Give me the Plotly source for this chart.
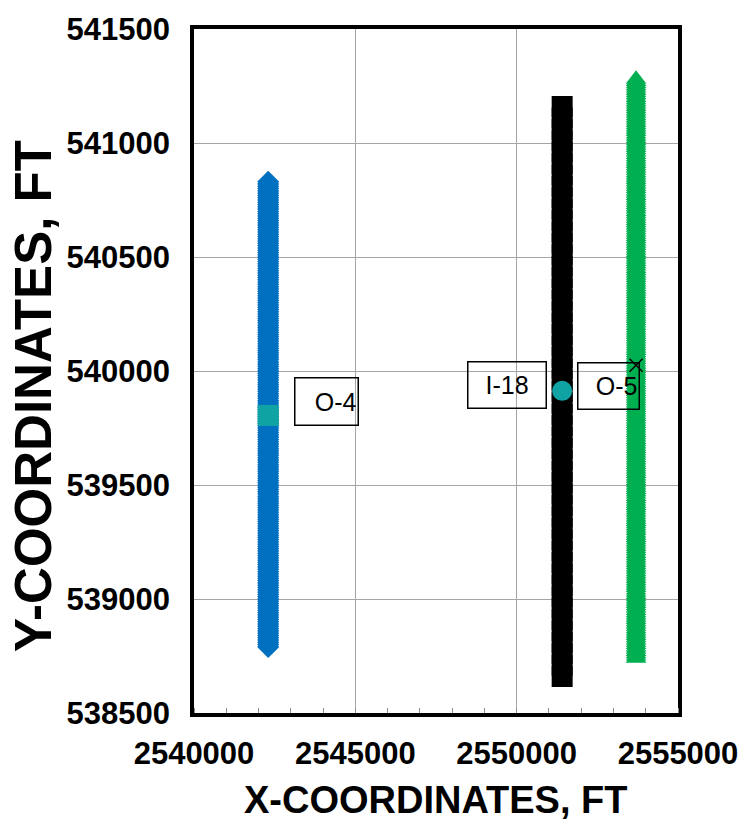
import plotly.graph_objects as go

# ---- Well survey stations (easting constant, northing in ft) ----
o4_x = 2542300
o4_y = [
    538790,
    538800, 538810, 538820, 538830, 538840, 538850, 538860, 538870, 538880, 538890,
    538900, 538910, 538920, 538930, 538940, 538950, 538960, 538970, 538980, 538990,
    539000, 539010, 539020, 539030, 539040, 539050, 539060, 539070, 539080, 539090,
    539100, 539110, 539120, 539130, 539140, 539150, 539160, 539170, 539180, 539190,
    539200, 539210, 539220, 539230, 539240, 539250, 539260, 539270, 539280, 539290,
    539300, 539310, 539320, 539330, 539340, 539350, 539360, 539370, 539380, 539390,
    539400, 539410, 539420, 539430, 539440, 539450, 539460, 539470, 539480, 539490,
    539500, 539510, 539520, 539530, 539540, 539550, 539560, 539570, 539580, 539590,
    539600, 539610, 539620, 539630, 539640, 539650, 539660, 539670, 539680, 539690,
    539700, 539710, 539720, 539730, 539740, 539750, 539760, 539770, 539780, 539790,
    539800, 539810, 539820, 539830, 539840, 539850, 539860, 539870, 539880, 539890,
    539900, 539910, 539920, 539930, 539940, 539950, 539960, 539970, 539980, 539990,
    540000, 540010, 540020, 540030, 540040, 540050, 540060, 540070, 540080, 540090,
    540100, 540110, 540120, 540130, 540140, 540150, 540160, 540170, 540180, 540190,
    540200, 540210, 540220, 540230, 540240, 540250, 540260, 540270, 540280, 540290,
    540300, 540310, 540320, 540330, 540340, 540350, 540360, 540370, 540380, 540390,
    540400, 540410, 540420, 540430, 540440, 540450, 540460, 540470, 540480, 540490,
    540500, 540510, 540520, 540530, 540540, 540550, 540560, 540570, 540580, 540590,
    540600, 540610, 540620, 540630, 540640, 540650, 540660, 540670, 540680, 540690,
    540700, 540710, 540720, 540730, 540740, 540750, 540760, 540770, 540780, 540790,
    540800, 540810, 540820, 540830,
]

i18_x = 2551410
i18_y = [
    538660, 538710, 538760, 538810, 538860, 538910, 538960, 539010, 539060, 539110,
    539160, 539210, 539260, 539310, 539360, 539410, 539460, 539510, 539560, 539610,
    539660, 539710, 539760, 539810, 539860, 539910, 539960, 540010, 540060, 540110,
    540160, 540210, 540260, 540310, 540360, 540410, 540460, 540510, 540560, 540610,
    540660, 540710, 540760, 540810, 540860, 540910, 540960, 541010, 541060, 541110,
    541160,
]

o5_x = 2553700
o5_y = [
    538740, 538750, 538760, 538770, 538780, 538790,
    538800, 538810, 538820, 538830, 538840, 538850, 538860, 538870, 538880, 538890,
    538900, 538910, 538920, 538930, 538940, 538950, 538960, 538970, 538980, 538990,
    539000, 539010, 539020, 539030, 539040, 539050, 539060, 539070, 539080, 539090,
    539100, 539110, 539120, 539130, 539140, 539150, 539160, 539170, 539180, 539190,
    539200, 539210, 539220, 539230, 539240, 539250, 539260, 539270, 539280, 539290,
    539300, 539310, 539320, 539330, 539340, 539350, 539360, 539370, 539380, 539390,
    539400, 539410, 539420, 539430, 539440, 539450, 539460, 539470, 539480, 539490,
    539500, 539510, 539520, 539530, 539540, 539550, 539560, 539570, 539580, 539590,
    539600, 539610, 539620, 539630, 539640, 539650, 539660, 539670, 539680, 539690,
    539700, 539710, 539720, 539730, 539740, 539750, 539760, 539770, 539780, 539790,
    539800, 539810, 539820, 539830, 539840, 539850, 539860, 539870, 539880, 539890,
    539900, 539910, 539920, 539930, 539940, 539950, 539960, 539970, 539980, 539990,
    540000, 540010, 540020, 540030, 540040, 540050, 540060, 540070, 540080, 540090,
    540100, 540110, 540120, 540130, 540140, 540150, 540160, 540170, 540180, 540190,
    540200, 540210, 540220, 540230, 540240, 540250, 540260, 540270, 540280, 540290,
    540300, 540310, 540320, 540330, 540340, 540350, 540360, 540370, 540380, 540390,
    540400, 540410, 540420, 540430, 540440, 540450, 540460, 540470, 540480, 540490,
    540500, 540510, 540520, 540530, 540540, 540550, 540560, 540570, 540580, 540590,
    540600, 540610, 540620, 540630, 540640, 540650, 540660, 540670, 540680, 540690,
    540700, 540710, 540720, 540730, 540740, 540750, 540760, 540770, 540780, 540790,
    540800, 540810, 540820, 540830, 540840, 540850, 540860, 540870, 540880, 540890,
    540900, 540910, 540920, 540930, 540940, 540950, 540960, 540970, 540980, 540990,
    541000, 541010, 541020, 541030, 541040, 541050, 541060, 541070, 541080, 541090,
    541100, 541110, 541120, 541130, 541140, 541150, 541160, 541170, 541180, 541190,
    541200, 541210, 541220, 541230, 541240, 541250, 541260, 541270, 541280,
]

# ---- Labelled well locations ----
well_names = ["O-4", "I-18", "O-5"]
well_x = [2542300, 2551410, 2553700]
well_y = [539805, 539913, 540025]

# ---- Axis ticks ----
x_ticks = [2540000, 2545000, 2550000, 2555000]
x_tick_text = ["2540000", "2545000", "2550000", "2555000"]
y_ticks = [538500, 539000, 539500, 540000, 540500, 541000, 541500]
y_tick_text = ["538500", "539000", "539500", "540000", "540500", "541000", "541500"]

BLUE = "#0070C0"
GREEN = "#00B050"
TEAL = "#0FA3A3"
FONT = "Liberation Sans"

fig = go.Figure()

fig.add_trace(go.Scatter(
    x=[o4_x] * len(o4_y), y=o4_y, mode="markers",
    marker=dict(symbol="diamond", size=17, color=BLUE, line=dict(width=0)),
))
fig.add_trace(go.Scatter(
    x=[i18_x] * len(i18_y), y=i18_y, mode="markers",
    marker=dict(symbol="square", size=21, color="black", line=dict(width=0)),
))
fig.add_trace(go.Scatter(
    x=[o5_x] * len(o5_y), y=o5_y, mode="markers",
    marker=dict(symbol="triangle-up", size=18, color=GREEN, line=dict(width=0)),
))

# Location markers on each well
fig.add_trace(go.Scatter(
    x=[well_x[0]], y=[well_y[0]], mode="markers",
    marker=dict(symbol="square", size=21, color=TEAL, line=dict(width=0)),
))
fig.add_trace(go.Scatter(
    x=[well_x[1]], y=[well_y[1]], mode="markers",
    marker=dict(symbol="circle", size=20, color=TEAL, line=dict(width=0)),
))
fig.add_trace(go.Scatter(
    x=[well_x[2]], y=[well_y[2]], mode="markers",
    marker=dict(symbol="x-thin", size=13, color="black",
                line=dict(width=1.5, color="black")),
))

# Boxed well labels, placed relative to each well's marker
label_style = [
    dict(xanchor="left", xshift=26, yshift=38.5, width=60, height=44, align="right"),
    dict(xanchor="right", xshift=-15.6, yshift=29.4, width=75, height=43, align="center"),
    dict(xanchor="right", xshift=4.4, yshift=3.4, width=58, height=43, align="right"),
]
for name, xv, yv, st in zip(well_names, well_x, well_y, label_style):
    fig.add_annotation(
        x=xv, y=yv, xref="x", yref="y", text=name, showarrow=False,
        yanchor="top", valign="middle",
        font=dict(family=FONT, size=25, color="black"),
        bordercolor="black", borderwidth=1.5, borderpad=1,
        bgcolor="rgba(0,0,0,0)", **st,
    )

# Axis titles
fig.add_annotation(
    text="X-COORDINATES, FT", xref="paper", yref="paper",
    x=0.5, y=-0.127, xanchor="center", yanchor="middle", showarrow=False,
    font=dict(family=FONT, size=38, color="black", weight="bold"),
)
fig.add_annotation(
    text="Y-COORDINATES, FT", xref="paper", yref="paper",
    x=-0.331, y=0.463, xanchor="center", yanchor="middle", showarrow=False,
    textangle=-90,
    font=dict(family=FONT, size=51, color="black", weight="bold"),
)

tick_font = dict(family=FONT, size=31, color="black", weight="bold")

fig.update_xaxes(
    range=[2540000, 2555000], tickmode="array", tickvals=x_ticks, ticktext=x_tick_text,
    tickfont=tick_font, ticks="", ticklabelstandoff=10,
    showgrid=True, gridcolor="#A6A6A6", gridwidth=1.2, zeroline=False,
    showline=True, linecolor="black", linewidth=3.5, mirror=True,
    minor=dict(tickmode="linear", tick0=2540000, dtick=1000, ticks="inside",
               ticklen=5, tickwidth=1, tickcolor="#8C8C8C", showgrid=False),
)
fig.update_yaxes(
    range=[538500, 541500], tickmode="array", tickvals=y_ticks, ticktext=y_tick_text,
    tickfont=tick_font, ticks="", ticklabelstandoff=14,
    showgrid=True, gridcolor="#A6A6A6", gridwidth=1.2, zeroline=False,
    showline=True, linecolor="black", linewidth=3.5, mirror=True,
)

fig.update_layout(
    width=750, height=821,
    margin=dict(l=194, r=65, t=23, b=108),
    paper_bgcolor="white", plot_bgcolor="white",
    showlegend=False,
)

fig.write_html("out.html")
